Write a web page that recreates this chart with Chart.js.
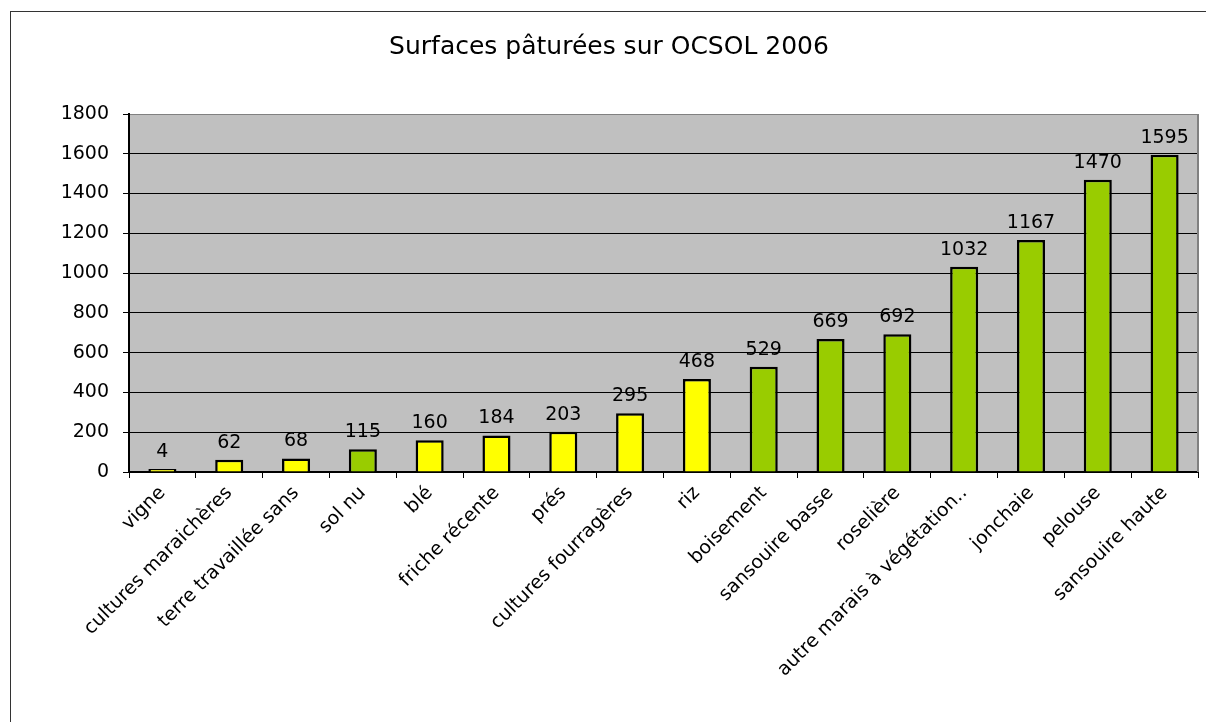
<!DOCTYPE html>
<html>
<head>
<meta charset="utf-8">
<script src="https://cdn.jsdelivr.net/npm/chart.js@4"></script>
<style>
  html, body { margin: 0; padding: 0; background: #fff; overflow: hidden; }
  #frame { position: absolute; left: 10px; top: 11px; width: 1400px; height: 900px;
           border-left: 1px solid #333; border-top: 1px solid #333; }
  #wrap { position: absolute; left: 0; top: 0; width: 1206px; height: 722px; }
</style>
</head>
<body>
<div id="frame"></div>
<div id="wrap"><canvas id="chart"></canvas></div>
<script>
const categories = [
  'vigne', 'cultures maraichères', 'terre travaillée sans', 'sol nu', 'blé',
  'friche récente', 'prés', 'cultures fourragères', 'riz', 'boisement',
  'sansouire basse', 'roselière', 'autre marais à végétation..', 'jonchaie',
  'pelouse', 'sansouire haute'
];
const surfaces = [4, 62, 68, 115, 160, 184, 203, 295, 468, 529, 669, 692, 1032, 1167, 1470, 1595];
// y = cultivated (yellow), g = natural (green)
const groups = ['y', 'y', 'y', 'g', 'y', 'y', 'y', 'y', 'y', 'g', 'g', 'g', 'g', 'g', 'g', 'g'];
const yTicks = [0, 200, 400, 600, 800, 1000, 1200, 1400, 1600, 1800];

const FONT = 'DejaVu Sans';
const colorOf = { y: '#FFFF00', g: '#99CC00' };

const plotBg = {
  id: 'plotBg',
  beforeDraw(chart) {
    const { ctx, chartArea: a } = chart;
    ctx.save();
    ctx.fillStyle = '#C0C0C0';
    ctx.fillRect(a.left, a.top, a.right - a.left, a.bottom - a.top);
    ctx.restore();
  },
  beforeDatasetsDraw(chart) {
    const { ctx, chartArea: a } = chart;
    ctx.save();
    ctx.strokeStyle = '#808080';
    ctx.lineWidth = 2;
    ctx.beginPath();
    ctx.moveTo(a.right, a.top);
    ctx.lineTo(a.right, a.bottom);
    ctx.stroke();
    ctx.restore();
  }
};

const valueLabels = {
  id: 'valueLabels',
  afterDatasetsDraw(chart) {
    const { ctx } = chart;
    const meta = chart.getDatasetMeta(0);
    ctx.save();
    ctx.font = '19px "' + FONT + '"';
    ctx.fillStyle = '#000';
    ctx.textAlign = 'center';
    ctx.textBaseline = 'alphabetic';
    meta.data.forEach((bar, i) => {
      ctx.fillText(String(surfaces[i]), bar.x, bar.y - 12);
    });
    ctx.restore();
  }
};

new Chart(document.getElementById('chart'), {
  type: 'bar',
  data: {
    labels: categories,
    datasets: [{
      data: surfaces,
      backgroundColor: groups.map((g) => colorOf[g]),
      borderColor: '#000',
      borderWidth: 2.5,
      minBarLength: 3,
      barPercentage: 0.42,
      categoryPercentage: 1,
    }],
  },
  options: {
    responsive: true,
    maintainAspectRatio: false,
    animation: false,
    layout: { padding: { left: 20, right: 8, top: 0, bottom: 0 } },
    plugins: {
      legend: { display: false },
      tooltip: { enabled: false },
      title: {
        display: true,
        text: 'Surfaces pâturées sur OCSOL 2006',
        color: '#000',
        font: { family: FONT, size: 25, weight: 'normal' },
        padding: { top: 32, bottom: 52 },
      },
    },
    scales: {
      x: {
        offset: true,
        grid: {
          offset: true,
          drawOnChartArea: false,
          drawTicks: true,
          tickLength: 6,
          color: '#000',
        },
        border: { color: '#000', width: 2 },
        ticks: {
          autoSkip: false,
          minRotation: 45,
          maxRotation: 45,
          padding: 4,
          color: '#000',
          font: { family: FONT, size: 19 },
        },
        afterFit(scale) { scale.height = 250; },
      },
      y: {
        min: 0,
        max: 1800,
        afterBuildTicks(scale) { scale.ticks = yTicks.map((v) => ({ value: v })); },
        grid: {
          color: (c) => (c.tick && c.tick.value === 1800 ? '#808080' : '#000'),
          tickColor: '#000',
          tickLength: 6,
          lineWidth: 1,
        },
        border: { color: '#000', width: 2 },
        ticks: {
          padding: 14,
          color: '#000',
          font: { family: FONT, size: 19 },
          callback: (v) => String(v),
        },
        afterFit(scale) { scale.width = 109; },
      },
    },
  },
  plugins: [plotBg, valueLabels],
});
</script>
</body>
</html>
